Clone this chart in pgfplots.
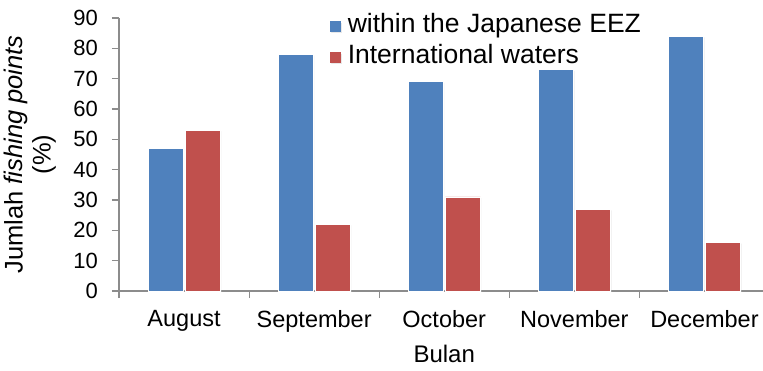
\documentclass[border=0pt]{standalone}
\usepackage{pgfplots}
\pgfplotsset{compat=1.18}
\usepackage{fontspec}
\setmainfont{Liberation Sans}
\usetikzlibrary{shadows}

\definecolor{eezblue}{HTML}{4F81BD}
\definecolor{intred}{HTML}{C0504D}
\definecolor{axisgray}{HTML}{8C8C8C}

\begin{document}
\begin{tikzpicture}
\begin{axis}[
  scale only axis,
  width=644pt, height=273pt,
  xmin=-0.5, xmax=4.45,
  ymin=0, ymax=90,
  axis x line*=bottom,
  axis y line*=left,
  axis line style={axisgray, line width=1.2pt},
  ybar=2pt,
  bar width=35pt,
  ytick={0,10,...,90},
  xtick={0,1,2,3,4},
  xticklabels={August,September,October,November,December},
  minor xtick={-0.5,0.5,1.5,2.5,3.5},
  major x tick style={draw=none},
  minor x tick style={axisgray, line width=1.2pt},
  minor tick length=7pt,
  major tick length=7pt,
  y tick style={axisgray, line width=1.2pt},
  tick align=outside,
  /pgf/number format/assume math mode=true,
  yticklabel style={font=\fontsize{22}{26}\selectfont, inner sep=1pt, xshift=-13pt},
  xticklabel style={font=\fontsize{23.5}{27}\selectfont, yshift=-9pt},
  xlabel={Bulan},
  xlabel style={font=\fontsize{24}{28}\selectfont, at={(axis cs:2,0)}, anchor=north, yshift=-51pt},
  ylabel={Jumlah \textit{fishing points}\\(\%)},
  every axis y label/.style={at={(axis description cs:0,0.5)}, xshift=-89pt,
    rotate=90, anchor=center, align=center, font=\fontsize{25.5}{28}\selectfont},
  legend style={at={(axis description cs:0.3276,1.0)}, anchor=north west,
    yshift=7pt, draw=none, fill=none, inner sep=0pt, outer sep=0pt,
    font=\fontsize{26.5}{31}\selectfont,
    row sep=3pt, nodes={inner sep=1pt, text height=20pt, text depth=6pt}},
  legend cell align=left,
  legend image code/.code={
    \fill[#1, draw=none] (0pt,-7pt) rectangle (10.7pt,3.7pt);
    \path (16.5pt,0pt);},
  every axis plot/.append style={draw=white, line width=0.6pt,
    drop shadow={shadow xshift=1.2pt, shadow yshift=-1.2pt, opacity=0.18}},
]
\addplot[fill=eezblue] coordinates {(0,47) (1,78) (2,69) (3,73) (4,84)};
\addplot[fill=intred] coordinates {(0,53) (1,22) (2,31) (3,27) (4,16)};
\legend{within the Japanese EEZ, International waters}
\end{axis}
\pgfresetboundingbox
\path (-119pt,-79pt) rectangle (644pt,291pt);
\end{tikzpicture}
\end{document}
